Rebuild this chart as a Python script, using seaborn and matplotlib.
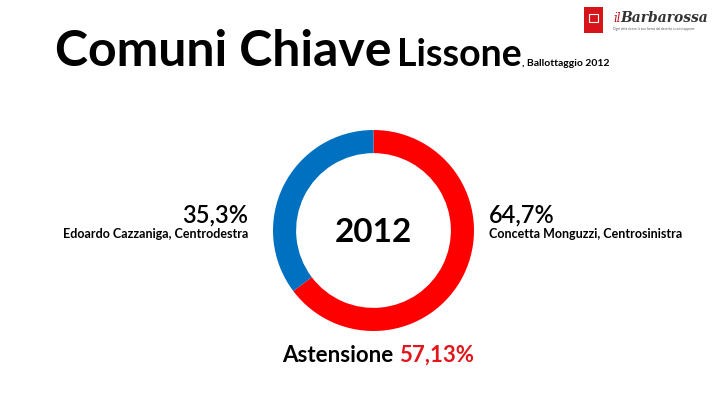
import matplotlib.pyplot as plt
import seaborn as sns
from matplotlib.patches import Rectangle

candidates = ["Concetta Monguzzi, Centrosinistra", "Edoardo Cazzaniga, Centrodestra"]
shares = [64.7, 35.3]
share_labels = ["64,7%", "35,3%"]
colors = ["#FF0000", "#0070C0"]
year = "2012"
turnout_label = "57,13%"

sns.set_theme(style="white")
plt.rcParams["font.family"] = ["Lato", "DejaVu Sans"]
plt.rcParams["text.color"] = "black"

W, H = 720, 405
fig = plt.figure(figsize=(7.2, 4.05), dpi=100)
fig.patch.set_facecolor("white")
renderer = fig.canvas.get_renderer()


def px(x, y):
    return x / W, 1 - y / H


def after(t, gap=0):
    bb = t.get_window_extent(renderer)
    return (bb.x1 + gap) / W


# donut
ax = fig.add_axes([273 / W, 1 - 331 / H, 201 / W, 201 / H])
ax.pie(shares, colors=colors, startangle=90, counterclock=False,
       wedgeprops=dict(width=0.23, edgecolor="none"))
ax.set_xlim(-1, 1)
ax.set_ylim(-1, 1)
ax.set_aspect("equal")
ax.text(0, -0.02, year, ha="center", va="center", fontsize=24, fontweight="bold", color="black")

# title
t1 = fig.text(*px(55, 66), "Comuni Chiave", fontsize=36, fontweight="bold", va="baseline")
t2 = fig.text(after(t1, 5), 1 - 66 / H, "Lissone", fontsize=27, fontweight="bold", va="baseline")
fig.text(after(t2, 1), 1 - 66 / H, ", Ballottaggio 2012", fontsize=7.5, fontweight="bold", va="baseline")

# side labels
fig.text(*px(248, 222), share_labels[1], fontsize=17, fontweight="semibold", ha="right", va="baseline")
fig.text(*px(248, 238), candidates[1], fontsize=9, fontweight="bold", ha="right", va="baseline")
fig.text(*px(489, 222), share_labels[0], fontsize=17, fontweight="semibold", ha="left", va="baseline")
fig.text(*px(489, 238), candidates[0], fontsize=9, fontweight="bold", ha="left", va="baseline")

# turnout
a1 = fig.text(*px(282, 362), "Astensione", fontsize=16, fontweight="bold", va="baseline")
fig.text(after(a1, 6), 1 - 362 / H, turnout_label, fontsize=16, fontweight="bold",
         va="baseline", color="#E3161B")

# logo
fig.patches.append(Rectangle((584 / W, 1 - 33 / H), 19 / W, 26 / H,
                             transform=fig.transFigure, facecolor="#D7141A", edgecolor="none"))
fig.patches.append(Rectangle((589 / W, 1 - 22 / H), 9 / W, 8 / H, transform=fig.transFigure,
                             facecolor="none", edgecolor="white", linewidth=0.8))
l1 = fig.text(*px(613, 22), "il", fontsize=8.5, fontstyle="italic", family="DejaVu Serif",
              color="#C0141A", va="baseline")
fig.text(after(l1, 0), 1 - 22 / H, "Barbarossa", fontsize=10, fontstyle="italic",
         fontweight="bold", family="DejaVu Serif", color="#333333", va="baseline")
fig.text(*px(613, 30), "Ogni città riceve la sua forma dal deserto a cui si oppone",
         fontsize=2.3, color="#555555", va="baseline")

fig.savefig("out.png", dpi=100)
